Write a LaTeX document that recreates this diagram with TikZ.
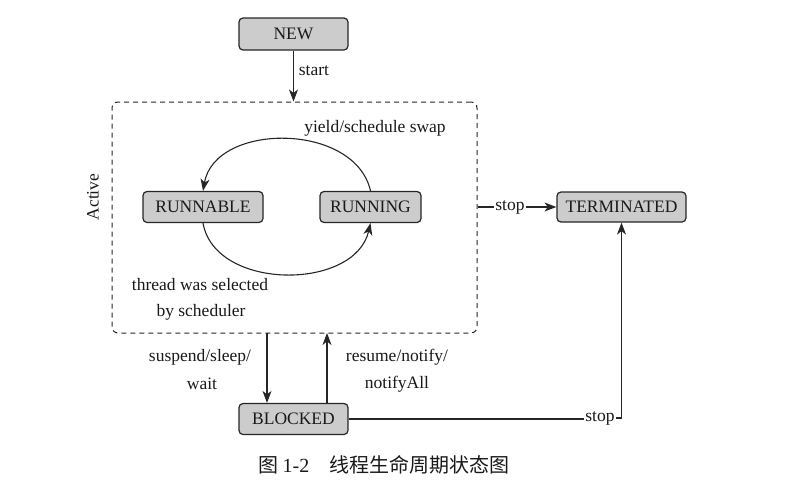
\documentclass[tikz,border=0pt]{standalone}
\usepackage{fontspec}
\setmainfont{Liberation Serif}
\newfontfamily\cjk{Noto Sans CJK SC}
\usetikzlibrary{arrows.meta,positioning}
\begin{document}
\begin{tikzpicture}[x=1pt,y=-1pt,
  every node/.style={font=\fontsize{17.5}{21}\selectfont, text=black!90},
  state/.style={draw=black!85, fill=black!20, rounded corners=4pt, line width=1.2pt, inner sep=0pt},
  lbl/.style={inner sep=1.5pt},
  conn/.style={draw=black!85, line width=1.1pt},
  arr/.style={conn, -{Stealth[length=12pt,width=9pt,inset=3.5pt]}}
]
\useasboundingbox (0,0) rectangle (790,485);

\node[state, minimum width=109pt, minimum height=32pt] (new) at (293.5,34) {NEW};
\node[draw=black!85, dashed, dash pattern=on 5pt off 4pt, line width=1pt, rounded corners=6pt,
      minimum width=365pt, minimum height=231pt, inner sep=0pt] (active) at (294.5,217.5) {};
\node[state, minimum width=120pt, minimum height=31pt] (runnable) at (203,207) {RUNNABLE};
\node[state, minimum width=101pt, minimum height=31pt] (running) at (370.5,207) {RUNNING};
\node[state, minimum width=129pt, minimum height=30pt] (term) at (621.5,207) {TERMINATED};
\node[state, minimum width=109pt, minimum height=31pt] (blocked) at (293.5,419) {BLOCKED};

\node[lbl, rotate=90] (activelbl) at (93,197) {Active};

% start
\draw[arr] (new.south) -- (new.south |- active.north);
\node[lbl] (startlbl) at (314,71) {start};

% cycle
\draw[arr] (running.north) .. controls (355,122) and (215,122) .. (runnable.north);
\draw[arr] (runnable.south) .. controls (215,291) and (355,291) .. (running.south);
\node[lbl] (yieldlbl) at (375,128) {yield/schedule swap};
\node[lbl] (sel1) at (200,285) {thread was selected};
\node[lbl] (sel2) at (201,312) {by scheduler};

% stop from active
\node[lbl] (stop1) at (510,207) {stop};
\draw[conn] (active.east |- stop1) -- (stop1.west);
\draw[arr] (stop1.east) -- (term.west);

% suspend / resume
\coordinate (sus) at (267,333);
\coordinate (res) at (327,333);
\draw[arr] (sus) -- (sus |- blocked.north);
\draw[arr] (res |- blocked.north) -- (res);
\node[lbl] (suslbl1) at (200,357) {suspend/sleep/};
\node[lbl] (suslbl2) at (202,384) {wait};
\node[lbl] (reslbl1) at (397,357) {resume/notify/};
\node[lbl] (reslbl2) at (397,384) {notifyAll};

% stop from blocked
\node[lbl] (stop2) at (600,418) {stop};
\draw[conn] (blocked.east) -- (blocked.east -| stop2.west);
\draw[arr] (stop2.east) -| (term.south);

% caption
\node[lbl, font=\fontsize{20}{24}\selectfont] (caption) at (384,465)
  {{\cjk 图}\hspace{4pt}1-2\hspace{20pt}{\cjk 线程生命周期状态图}};
\end{tikzpicture}
\end{document}
